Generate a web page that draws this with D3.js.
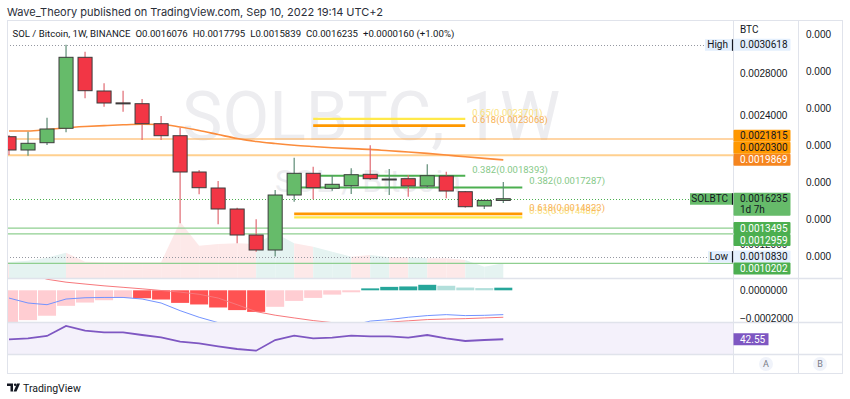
<!DOCTYPE html>
<html>
<head>
<meta charset="utf-8">
<script src="https://cdn.jsdelivr.net/npm/d3@7"></script>
<style>
	body { margin: 0; background: #fff; }
	svg { display: block; font-family: Roboto, "Noto Sans", sans-serif; }
</style>
</head>
<body>
<div id="chart-area"></div>
<script>
// weekly candles, SOL / BTC (Binance)
const weeks = ["2022-03-07", "2022-03-14", "2022-03-21", "2022-03-28", "2022-04-04", "2022-04-11", "2022-04-18",
	"2022-04-25", "2022-05-02", "2022-05-09", "2022-05-16", "2022-05-23", "2022-05-30", "2022-06-06", "2022-06-13",
	"2022-06-20", "2022-06-27", "2022-07-04", "2022-07-11", "2022-07-18", "2022-07-25", "2022-08-01", "2022-08-08",
	"2022-08-15", "2022-08-22", "2022-08-29", "2022-09-05"]
const opens = [0.0022030, 0.0020787, 0.0021469, 0.0022815, 0.0029448, 0.0026300, 0.0025190, 0.0025113, 0.0023244,
	0.0022123, 0.0018732, 0.0017237, 0.0015275, 0.0012846, 0.0011444, 0.0016583, 0.0018610, 0.0017209, 0.0017452,
	0.0018517, 0.0018078, 0.0018106, 0.0017424, 0.0018358, 0.0016891, 0.0015555, 0.0016076]
const highs = [0.0022189, 0.0022497, 0.0023805, 0.0030618, 0.0029971, 0.0027019, 0.0026328, 0.0025552, 0.0023964,
	0.0022871, 0.0018919, 0.0017891, 0.0015397, 0.0014313, 0.0017050, 0.0020068, 0.0019227, 0.0018452, 0.0019078,
	0.0021226, 0.0019012, 0.0018452, 0.0019451, 0.0018760, 0.0016957, 0.0016116, 0.0017795]
const lows = [0.0020320, 0.0020255, 0.0021254, 0.0022441, 0.0025617, 0.0024833, 0.0024366, 0.0021722, 0.0021722,
	0.0013939, 0.0016648, 0.0013846, 0.0012070, 0.0011285, 0.0010830, 0.0015957, 0.0016181, 0.0016985, 0.0016677,
	0.0017984, 0.0016583, 0.0016424, 0.0017209, 0.0016275, 0.0015397, 0.0015275, 0.0015839]
const closes = [0.0020787, 0.0021413, 0.0022749, 0.0029448, 0.0026328, 0.0025178, 0.0025178, 0.0023244, 0.0022123,
	0.0018732, 0.0017265, 0.0015275, 0.0012846, 0.0011444, 0.0016583, 0.0018610, 0.0017265, 0.0017583, 0.0018479,
	0.0018106, 0.0018078, 0.0017424, 0.0018386, 0.0016957, 0.0015490, 0.0016076, 0.0016235]
// volume (millions)
const volumes = [1.60, 1.73, 2.03, 2.53, 1.63, 1.57, 1.57, 1.57, 1.57, 5.63, 3.23, 3.40, 3.47, 3.40, 4.50, 3.47,
	3.13, 2.63, 2.13, 2.30, 2.07, 2.07, 1.97, 1.97, 1.80, 1.13, 1.47]
// moving average (orange curve)
const maValues = [0.0022562, 0.0022562, 0.0022703, 0.0022871, 0.0022983, 0.0023067, 0.0023142, 0.0023188, 0.0023170,
	0.0022936, 0.0022609, 0.0022235, 0.0021862, 0.0021581, 0.0021395, 0.0021236, 0.0021114, 0.0021002, 0.0020918,
	0.0020843, 0.0020713, 0.0020600, 0.0020470, 0.0020320, 0.0020152, 0.0020002, 0.0019869]
// MACD pane
const macdLine = [-0.0000563, -0.0000924, -0.0001047, -0.0000635, -0.0000542, -0.000052, -0.000052, -0.0000635,
	-0.0000924, -0.000148, -0.000196, -0.000235, -0.000249, -0.000312, -0.000301, -0.000278, -0.000275, -0.000266,
	-0.000256, -0.000224, -0.000213, -0.000196, -0.000184, -0.000177, -0.000184, -0.000182, -0.000177]
const macdSignal = [0.000179, 0.000125, 0.0000803, 0.0000592, 0.0000455, 0.0000325, 0.0000217, 0.0000108, -0.0000014,
	-0.000013, -0.0000289, -0.0000563, -0.0001047, -0.000155, -0.000181, -0.000201, -0.00022, -0.000235, -0.000242,
	-0.000242, -0.000231, -0.000222, -0.000213, -0.000209, -0.000206, -0.000201, -0.000196]
const macdHist = [-0.000235, -0.000217, -0.000185, -0.000113, -0.0000891, -0.0000722, -0.0000553, -0.000058,
	-0.000067, -0.0000915, -0.000103, -0.000125, -0.000144, -0.000157, -0.00012, -0.0000771, -0.0000553, -0.0000313,
	-0.0000144, 0.000014, 0.000025, 0.000028, 0.00004, 0.000033, 0.00002, 0.000016, 0.000019]
// RSI pane
const rsiValues = [42.5, 43.5, 45.8, 55.8, 51.1, 49.5, 49.5, 46.8, 44.5, 40.1, 38.5, 35.5, 32.8, 31.1, 41.8, 46.1,
	43.5, 44.1, 46.1, 45.5, 45.5, 44.1, 46.8, 43.5, 40.8, 41.8, 42.55]

// horizontal levels drawn across the pane
const levelPrices = [0.0020300, 0.0021815, 0.0013495, 0.0012959, 0.0010202]
const levelKinds = ["orangeSoft", "orange", "green", "green", "green"]
// fibonacci segments
const fibRatios = ["0.65", "0.618", "0.382", "0.382", "0.65", "0.618"]
const fibPrices = [0.0023701, 0.0023068, 0.0018393, 0.0017287, 0.0014488, 0.0014823]
const fibStarts = ["2022-06-27", "2022-06-27", "2022-06-27", "2022-06-20", "2022-06-20", "2022-06-20"]
const fibEnds = ["2022-08-22", "2022-08-22", "2022-08-22", "2022-09-12", "2022-09-12", "2022-09-12"]
const fibKinds = ["yellow", "orange", "green", "green", "yellow", "orange"]

const priceTicks = [0.0012, 0.0016, 0.0020, 0.0024, 0.0028]
const sideTicks = [0.00045, 0.00035, 0.00025, 0.00015, 0.00005, -0.00005, -0.00015]
const macdTicks = [0, -0.0002]
const monthTicks = ["2022-03-07", "2022-04-04", "2022-05-02", "2022-06-06", "2022-07-04", "2022-08-01",
	"2022-09-05", "2022-10-03", "2022-11-07"]
const monthLabels = ["Mar", "Apr", "May", "Jun", "Jul", "Aug", "Sep", "Oct", "Nov"]

const legendParts = ["SOL / Bitcoin, 1W, BINANCE", "O0.0016076", "H0.0017795", "L0.0015839", "C0.0016235",
	"+0.0000160 (+1.00%)"]

const highPrice = 0.0030618
const lowPrice = 0.0010830
const lastPrice = 0.0016235

// ---------- layout ----------
const FRAME = { LEFT: 7, RIGHT: 842, TOP: 20, BOTTOM: 373 }
const PANE_RIGHT = 733
const SIDE_AXIS = 798
const MAIN = { TOP: 20, BOTTOM: 278 }
const MACD = { TOP: 278, BOTTOM: 322 }
const RSI = { TOP: 322, BOTTOM: 354 }

const C = {
	up: "#66bb6a", down: "#f23645", border: "#3c3c3c", upWick: "#5e8c76", downWick: "#e06a72",
	orange: "#ff9800", orangeLine: "#ffac4d", orangeSoft: "#ffd08f", ma: "#fb8c3c",
	green: "#4caf50", greenLine: "#8fcf90", yellow: "#ffe94a",
	text: "#131722", grid: "#e0e3eb"
}

const parseTime = d3.timeParse("%Y-%m-%d")
const fmt7 = d3.format(".7f")

const candles = weeks.map((w, i) => ({
	date: parseTime(w), open: opens[i], high: highs[i], low: lows[i], close: closes[i],
	vol: volumes[i], ma: maValues[i], macd: macdLine[i], signal: macdSignal[i], hist: macdHist[i], rsi: rsiValues[i]
}))

const svg = d3.select("#chart-area").append("svg")
	.attr("width", 850)
	.attr("height", 399)

// scales
const x = d3.scaleTime()
	.domain([parseTime(weeks[0]), parseTime(weeks[weeks.length - 1])])
	.range([9, 503.3])
const step = x(candles[1].date) - x(candles[0].date)
const y = d3.scaleLinear().domain([0.0008829, 0.0032933]).range([MAIN.BOTTOM, MAIN.TOP])
const yVol = d3.scaleLinear().domain([0, 25.8]).range([MAIN.BOTTOM, MAIN.TOP])
const ySide = d3.scaleLinear().domain([-0.0002095, 0.0004878]).range([MAIN.BOTTOM, MAIN.TOP])
const yMacd = d3.scaleLinear().domain([0, -0.0002]).range([290.3, 317.8])
const yRsi = d3.scaleLinear().domain([27.8, 59.8]).range([RSI.BOTTOM, RSI.TOP])

// clip paths
const defs = svg.append("defs")
const clip = (id, top, bottom) => defs.append("clipPath").attr("id", id)
	.append("rect").attr("x", FRAME.LEFT).attr("y", top)
	.attr("width", PANE_RIGHT - FRAME.LEFT).attr("height", bottom - top)
clip("clip-main", MAIN.TOP, MAIN.BOTTOM)
clip("clip-macd", MACD.TOP, MACD.BOTTOM)
clip("clip-rsi", RSI.TOP, RSI.BOTTOM)
clip("clip-time", RSI.BOTTOM, FRAME.BOTTOM)

// header
svg.append("text")
	.attr("x", 7).attr("y", 15.5)
	.attr("font-family", "Inter, sans-serif")
	.attr("font-size", "11px").attr("fill", "#2a2e39")
	.text("Wave_Theory published on TradingView.com, Sep 10, 2022 19:14 UTC+2")

// ---------- main pane ----------
const main = svg.append("g").attr("clip-path", "url(#clip-main)")

// watermark
main.append("text")
	.attr("x", 371).attr("y", 140)
	.attr("text-anchor", "middle")
	.attr("font-size", "68px")
	.attr("fill", "#ededf0")
	.text("SOLBTC, 1W")
main.append("text")
	.attr("x", 368).attr("y", 192)
	.attr("text-anchor", "middle")
	.attr("font-size", "32px")
	.attr("fill", "#ededf0")
	.text("SOL / Bitcoin")

// volume area, coloured segment by segment
const volPts = candles.map(d => [x(d.date), yVol(d.vol)])
candles.forEach((d, i) => {
	const x0 = i === 0 ? FRAME.LEFT : volPts[i - 1][0]
	const y0 = i === 0 ? volPts[0][1] : volPts[i - 1][1]
	const poly = [[x0, MAIN.BOTTOM], [x0, y0], volPts[i], [volPts[i][0], MAIN.BOTTOM]]
	main.append("path")
		.attr("d", d3.line()(poly) + "Z")
		.attr("fill", d.close >= d.open ? "#e5f3f1" : "#fde9e9")
})

// full-width levels
const levelStyle = {
	orange: { stroke: C.orangeLine, width: 1.2 },
	orangeSoft: { stroke: C.orangeSoft, width: 2 },
	green: { stroke: C.greenLine, width: 1.2 }
}
levelPrices.forEach((p, i) => {
	main.append("line")
		.attr("x1", FRAME.LEFT).attr("x2", PANE_RIGHT)
		.attr("y1", y(p)).attr("y2", y(p))
		.attr("stroke", levelStyle[levelKinds[i]].stroke)
		.attr("stroke-width", levelStyle[levelKinds[i]].width)
})

// high / low / last price markers
const dotted = (p, x2, color) => main.append("line")
	.attr("x1", FRAME.LEFT).attr("x2", x2)
	.attr("y1", Math.round(y(p)) + 0.5).attr("y2", Math.round(y(p)) + 0.5)
	.attr("stroke", color).attr("stroke-dasharray", "1,2")
dotted(highPrice, 705, "#9598a1")
dotted(lowPrice, 708, "#9598a1")
dotted(lastPrice, PANE_RIGHT, C.green)

// moving average
main.append("path")
	.datum(candles)
	.attr("fill", "none")
	.attr("stroke", C.ma)
	.attr("stroke-width", 1.6)
	.attr("d", d3.line().x(d => x(d.date)).y(d => y(d.ma)).curve(d3.curveMonotoneX))

// fibonacci segments + labels
const fibStyle = {
	yellow: { stroke: C.yellow, width: 2.2, label: "#fbe27c" },
	orange: { stroke: C.orange, width: 2.6, label: "#f8b255" },
	green: { stroke: C.green, width: 2, label: "#86c988" }
}
fibPrices.forEach((p, i) => {
	const s = fibStyle[fibKinds[i]]
	main.append("line")
		.attr("x1", x(parseTime(fibStarts[i]))).attr("x2", x(parseTime(fibEnds[i])))
		.attr("y1", y(p)).attr("y2", y(p))
		.attr("stroke", s.stroke).attr("stroke-width", s.width)
})
fibPrices.forEach((p, i) => {
	const s = fibStyle[fibKinds[i]]
	main.append("text")
		.attr("x", x(parseTime(fibEnds[i])) + 7)
		.attr("y", y(p) - 3)
		.attr("font-size", "9.5px")
		.attr("fill", s.label)
		.text(`${fibRatios[i]}(${fibPrices[i].toFixed(7)})`)
})

// candles
const bodyW = step * 0.74
const candle = main.selectAll(".candle").data(candles).join("g").attr("class", "candle")
candle.append("line")
	.attr("x1", d => x(d.date)).attr("x2", d => x(d.date))
	.attr("y1", d => y(d.high)).attr("y2", d => y(d.low))
	.attr("stroke", d => d.close >= d.open ? C.upWick : C.downWick)
	.attr("stroke-width", 1.2)
candle.append("rect")
	.attr("x", d => x(d.date) - bodyW / 2)
	.attr("width", bodyW)
	.attr("y", d => y(Math.max(d.open, d.close)))
	.attr("height", d => Math.max(1, Math.abs(y(d.open) - y(d.close))))
	.attr("fill", d => d.close >= d.open ? C.up : C.down)
	.attr("stroke", C.border)
	.attr("stroke-width", 1)

// legend
svg.append("text")
	.attr("x", 12.5).attr("y", 36.5)
	.attr("font-size", "9.6px").attr("fill", C.text)
	.selectAll("tspan").data(legendParts).join("tspan")
	.attr("dx", (d, i) => i === 0 ? 0 : 5)
	.text(d => d)

// ---------- MACD pane ----------
const macd = svg.append("g").attr("clip-path", "url(#clip-macd)")
macd.selectAll(".hist").data(candles).join("rect")
	.attr("class", "hist")
	.attr("x", d => x(d.date) - step / 2 + 0.5)
	.attr("width", step - 1)
	.attr("y", d => Math.min(yMacd(0), yMacd(d.hist)))
	.attr("height", d => Math.abs(yMacd(d.hist) - yMacd(0)))
	.attr("fill", (d, i) => {
		const rising = i === 0 || d.hist >= candles[i - 1].hist
		if (d.hist >= 0) return rising ? "#26a69a" : "#b2dfdb"
		return rising ? "#ffcdd2" : "#ff5252"
	})
macd.append("path").datum(candles)
	.attr("fill", "none").attr("stroke", "#f7787c").attr("stroke-width", 1)
	.attr("d", d3.line().x(d => x(d.date)).y(d => yMacd(d.signal)))
macd.append("path").datum(candles)
	.attr("fill", "none").attr("stroke", "#7393ff").attr("stroke-width", 1)
	.attr("d", d3.line().x(d => x(d.date)).y(d => yMacd(d.macd)))

// ---------- RSI pane ----------
const rsi = svg.append("g").attr("clip-path", "url(#clip-rsi)")
rsi.append("rect")
	.attr("x", FRAME.LEFT).attr("width", PANE_RIGHT - FRAME.LEFT)
	.attr("y", RSI.TOP).attr("height", RSI.BOTTOM - RSI.TOP)
	.attr("fill", "#f4f1fb")
rsi.append("path").datum(candles)
	.attr("fill", "none").attr("stroke", "#7e57c2").attr("stroke-width", 1.8)
	.attr("d", d3.line().x(d => x(d.date)).y(d => yRsi(d.rsi)))

// ---------- frame & separators ----------
svg.append("rect")
	.attr("x", FRAME.LEFT + 0.5).attr("y", FRAME.TOP + 0.5)
	.attr("width", FRAME.RIGHT - FRAME.LEFT).attr("height", FRAME.BOTTOM - FRAME.TOP)
	.attr("fill", "none").attr("stroke", C.grid)
;[MAIN.BOTTOM, MACD.BOTTOM, RSI.BOTTOM].forEach(yy => svg.append("line")
	.attr("x1", FRAME.LEFT).attr("x2", FRAME.RIGHT)
	.attr("y1", yy + 0.5).attr("y2", yy + 0.5)
	.attr("stroke", C.grid).attr("stroke-width", 1.5))
;[PANE_RIGHT, SIDE_AXIS].forEach(xx => svg.append("line")
	.attr("x1", xx + 0.5).attr("x2", xx + 0.5)
	.attr("y1", FRAME.TOP).attr("y2", FRAME.BOTTOM)
	.attr("stroke", C.grid))

// ---------- axes ----------
const styleAxis = sel => {
	sel.select(".domain").remove()
	sel.selectAll("text").attr("fill", C.text).attr("font-size", "10px").attr("font-family", null)
}

svg.append("g")
	.attr("transform", `translate(${PANE_RIGHT}, 0)`)
	.call(d3.axisRight(y).tickValues(priceTicks).tickFormat(fmt7).tickSize(0).tickPadding(7))
	.call(styleAxis)
svg.append("g")
	.attr("transform", `translate(${SIDE_AXIS}, 0)`)
	.call(d3.axisRight(ySide).tickValues(sideTicks).tickFormat(d3.format(".3f")).tickSize(0).tickPadding(8))
	.call(styleAxis)
svg.append("g")
	.attr("transform", `translate(${PANE_RIGHT}, 0)`)
	.call(d3.axisRight(yMacd).tickValues(macdTicks).tickFormat(fmt7).tickSize(0).tickPadding(7))
	.call(styleAxis)
svg.append("g")
	.attr("clip-path", "url(#clip-time)")
	.attr("transform", `translate(0, ${RSI.BOTTOM})`)
	.call(d3.axisBottom(x).tickValues(monthTicks.map(parseTime))
		.tickFormat((d, i) => monthLabels[i]).tickSize(0).tickPadding(7))
	.call(styleAxis)
	.selectAll("text").attr("font-weight", 500).attr("font-size", "10.5px")

svg.append("text")
	.attr("x", 740).attr("y", 32.5)
	.attr("font-size", "10px").attr("fill", C.text)
	.text("BTC")

// ---------- price scale labels ----------
const LABEL_H = 12
const boxes = []
const fixedLabels = [
	{ price: highPrice, bg: "#e3effd", color: C.text },
	{ price: lowPrice, bg: "#e3effd", color: C.text },
	{ price: maValues[maValues.length - 1], bg: "#f5851f", color: "#fff" },
	{ price: lastPrice, bg: C.up, color: C.text, extra: "1d 7h" }
]
fixedLabels.forEach(l => {
	l.y = y(l.price)
	l.top = l.y - LABEL_H / 2
	l.bottom = l.extra ? l.top + 23 : l.top + LABEL_H
	boxes.push(l)
})
levelPrices.forEach((p, i) => {
	const l = { price: p, bg: levelKinds[i] === "green" ? C.green : C.orange,
		color: levelKinds[i] === "green" ? "#fff" : C.text, y: y(p) }
	let moved = true
	while (moved) {
		moved = false
		boxes.forEach(b => {
			const top = l.y - LABEL_H / 2, bottom = l.y + LABEL_H / 2
			if (top < b.bottom && bottom > b.top) {
				l.y = y(p) < b.y ? b.top - LABEL_H / 2 : b.bottom + LABEL_H / 2
				moved = true
			}
		})
	}
	l.top = l.y - LABEL_H / 2
	l.bottom = l.y + LABEL_H / 2
	boxes.push(l)
})

const labels = svg.append("g")
boxes.forEach(b => {
	labels.append("rect")
		.attr("x", PANE_RIGHT + 0.5).attr("y", b.top)
		.attr("width", 57).attr("height", b.bottom - b.top)
		.attr("rx", 1)
		.attr("fill", b.bg)
	labels.append("text")
		.attr("x", 740).attr("y", b.top + LABEL_H / 2)
		.attr("dy", "0.35em")
		.attr("font-size", "10px").attr("fill", b.color)
		.text(fmt7(b.price))
	if (b.extra) {
		labels.append("text")
			.attr("x", 740).attr("y", b.top + LABEL_H / 2 + 11)
			.attr("dy", "0.35em")
			.attr("font-size", "10px").attr("fill", b.color)
			.text(b.extra)
	}
})

// name tags on the left of the price scale
const tag = (p, label, bg, x0) => {
	labels.append("rect")
		.attr("x", x0).attr("y", y(p) - 5.5)
		.attr("width", PANE_RIGHT - x0).attr("height", 11.5)
		.attr("fill", bg)
	labels.append("line")
		.attr("x1", PANE_RIGHT - 0.5).attr("x2", PANE_RIGHT - 0.5)
		.attr("y1", y(p) - 5.5).attr("y2", y(p) + 6)
		.attr("stroke", C.text).attr("stroke-width", 1.2)
	labels.append("text")
		.attr("x", PANE_RIGHT - 5).attr("y", y(p))
		.attr("dy", "0.35em").attr("text-anchor", "end")
		.attr("font-size", "10px").attr("fill", C.text)
		.text(label)
}
tag(highPrice, "High", "#e3effd", 705)
tag(lowPrice, "Low", "#e3effd", 708)
tag(lastPrice, "SOLBTC", C.up, 690)

// RSI value label
labels.append("rect")
	.attr("x", PANE_RIGHT + 0.5).attr("y", yRsi(rsiValues[rsiValues.length - 1]) - 6)
	.attr("width", 35).attr("height", 12)
	.attr("fill", "#7e57c2")
labels.append("text")
	.attr("x", 740).attr("y", yRsi(rsiValues[rsiValues.length - 1]))
	.attr("dy", "0.35em")
	.attr("font-size", "10px").attr("fill", "#fff")
	.text(rsiValues[rsiValues.length - 1].toFixed(2))

// scale mode buttons
;[["A", 766], ["B", 820]].forEach(([t, cx]) => {
	svg.append("circle").attr("cx", cx).attr("cy", 364).attr("r", 7).attr("fill", "#f0f3fa")
	svg.append("text").attr("x", cx).attr("y", 364).attr("dy", "0.35em")
		.attr("text-anchor", "middle").attr("font-size", "9px").attr("fill", "#787b86").text(t)
})

// TradingView footer
const logo = svg.append("g").attr("transform", "translate(7, 383.5)").attr("fill", C.text)
logo.append("path").attr("d", "M0 0H6V8H3.5V2.5H0Z")
logo.append("circle").attr("cx", 8.2).attr("cy", 1.3).attr("r", 1.3)
logo.append("path").attr("d", "M10 0H13L9.5 8H6.5Z")
svg.append("text")
	.attr("x", 23).attr("y", 391.5)
	.attr("font-size", "10.5px").attr("fill", C.text)
	.text("TradingView")
</script>
</body>
</html>
